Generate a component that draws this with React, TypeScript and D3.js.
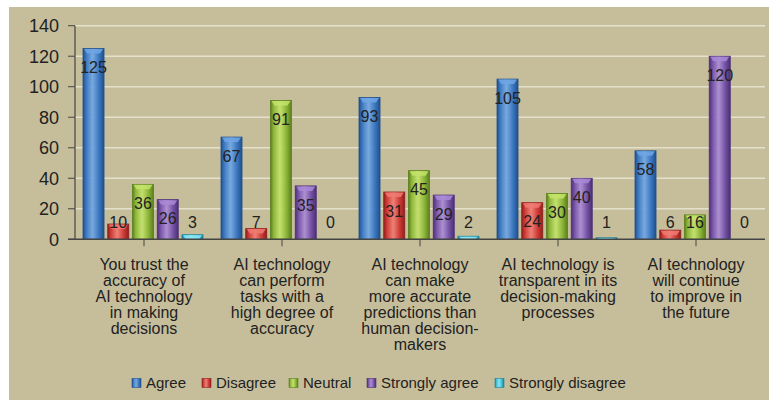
import { useMemo } from "react";
import * as d3 from "d3";

const categories = [
  ["You trust the", "accuracy of", "AI technology", "in making", "decisions"],
  ["AI technology", "can perform", "tasks with a", "high degree of", "accuracy"],
  ["AI technology", "can make", "more accurate", "predictions than", "human decision-", "makers"],
  ["AI technology is", "transparent in its", "decision-making", "processes"],
  ["AI technology", "will continue", "to improve in", "the future"],
];
const seriesNames = ["Agree", "Disagree", "Neutral", "Strongly agree", "Strongly disagree"];
const agree = [125, 67, 93, 105, 58];
const disagree = [10, 7, 31, 24, 6];
const neutral = [36, 91, 45, 30, 16];
const stronglyAgree = [26, 35, 29, 40, 120];
const stronglyDisagree = [3, 0, 2, 1, 0];
const yTicks = [0, 20, 40, 60, 80, 100, 120, 140];

const COLORS = [
  { base: "#3c78c0", light: "#6ea6e6", dark: "#214f8c" },
  { base: "#cf3b36", light: "#f07a72", dark: "#8f1f1c" },
  { base: "#8db63a", light: "#c3e36a", dark: "#5a7f1c" },
  { base: "#7652a6", light: "#a98ad6", dark: "#4b2f75" },
  { base: "#3cbdd6", light: "#8ae6f5", dark: "#1f8199" },
];

const W = 769;
const H = 400;
const PLOT = { left: 75, right: 765, top: 25.7, bottom: 239.3 };
const FONT = "'Liberation Sans', Arial, Helvetica, sans-serif";

export default function App() {
  const series = [agree, disagree, neutral, stronglyAgree, stronglyDisagree];

  const x0 = useMemo(
    () => d3.scaleBand<number>().domain(d3.range(categories.length)).range([PLOT.left, PLOT.right]).paddingInner(0).paddingOuter(0),
    []
  );
  const x1 = useMemo(
    () => d3.scaleBand<number>().domain(d3.range(seriesNames.length)).range([8, x0.bandwidth() - 10]).paddingInner(0.15),
    [x0]
  );
  const y = useMemo(() => d3.scaleLinear().domain([0, 140]).range([PLOT.bottom, PLOT.top]), []);

  const legendX = [132, 202, 289, 367, 495];

  return (
    <svg width={W} height={H} style={{ position: "absolute", left: 0, top: 0 }} fontFamily={FONT}>
      <defs>
        {COLORS.map((c, i) => (
          <linearGradient key={i} id={`g${i}`} x1="0" x2="1" y1="0" y2="0">
            <stop offset="0" stopColor={c.dark} />
            <stop offset="0.15" stopColor={c.base} />
            <stop offset="0.45" stopColor={c.light} stopOpacity={0.9} />
            <stop offset="0.75" stopColor={c.base} />
            <stop offset="1" stopColor={c.dark} />
          </linearGradient>
        ))}
      </defs>
      <rect x={0} y={0} width={W} height={H} fill="#ffffff" />
      <rect x={9} y={7} width={W - 9} height={H - 7} fill="#c6be9b" />

      {/* grid */}
      {yTicks.map((t) => (
        <g key={t}>
          {t > 0 && (
            <line x1={PLOT.left} x2={PLOT.right} y1={y(t)} y2={y(t)} stroke="#e4e0cc" strokeWidth={1.5} />
          )}
          <line x1={PLOT.left - 7} x2={PLOT.left} y1={y(t)} y2={y(t)} stroke="#444" strokeWidth={1} />
          <text x={59} y={y(t)} dy="0.35em" textAnchor="end" fontSize={18} fill="#222">
            {t}
          </text>
        </g>
      ))}

      {/* bars */}
      {categories.map((_, ci) => (
        <g key={ci} transform={`translate(${x0(ci)},0)`}>
          {series.map((vals, si) => {
            const v = vals[ci];
            const bx = x1(si)!;
            const bw = x1.bandwidth();
            const top = y(v);
            const h = PLOT.bottom - top;
            const labelY = Math.min(top + 19, 222);
            return (
              <g key={si}>
                {h > 0 && (
                  <>
                    <rect x={bx} y={top} width={bw} height={h} fill={`url(#g${si})`} stroke={COLORS[si].dark} strokeWidth={0.8} />
                    <path
                      d={`M${bx + 1},${top + 0.5} L${bx + bw - 1},${top + 0.5} L${bx + bw - 4},${top + Math.min(5, h)} L${bx + 4},${top + Math.min(5, h)} Z`}
                      fill={COLORS[si].light}
                      opacity={0.85}
                    />
                  </>
                )}
                <text x={bx + bw / 2} y={labelY} dy="0.35em" textAnchor="middle" fontSize={16} fill="#222">
                  {v}
                </text>
              </g>
            );
          })}
        </g>
      ))}

      {/* axes */}
      <line x1={PLOT.left} x2={PLOT.left} y1={PLOT.top} y2={PLOT.bottom} stroke="#444" strokeWidth={1.2} />
      <line x1={PLOT.left - 7} x2={PLOT.right} y1={PLOT.bottom} y2={PLOT.bottom} stroke="#444" strokeWidth={1.5} />
      {categories.map((lines, ci) => {
        const cx = x0(ci)! + x0.bandwidth() / 2;
        return (
          <g key={ci}>
            <line x1={cx} x2={cx} y1={PLOT.bottom} y2={PLOT.bottom + 7} stroke="#444" strokeWidth={1} />
            {lines.map((l, li) => (
              <text key={li} x={cx} y={264 + li * 16} dy="0.35em" textAnchor="middle" fontSize={16} fill="#222">
                {l}
              </text>
            ))}
          </g>
        );
      })}

      {/* legend */}
      {seriesNames.map((n, i) => (
        <g key={n}>
          <rect x={legendX[i]} y={378.5} width={9} height={9} fill={`url(#g${i})`} stroke={COLORS[i].dark} strokeWidth={0.6} />
          <text x={legendX[i] + 14} y={383} dy="0.35em" fontSize={15} fill="#222">
            {n}
          </text>
        </g>
      ))}
    </svg>
  );
}
